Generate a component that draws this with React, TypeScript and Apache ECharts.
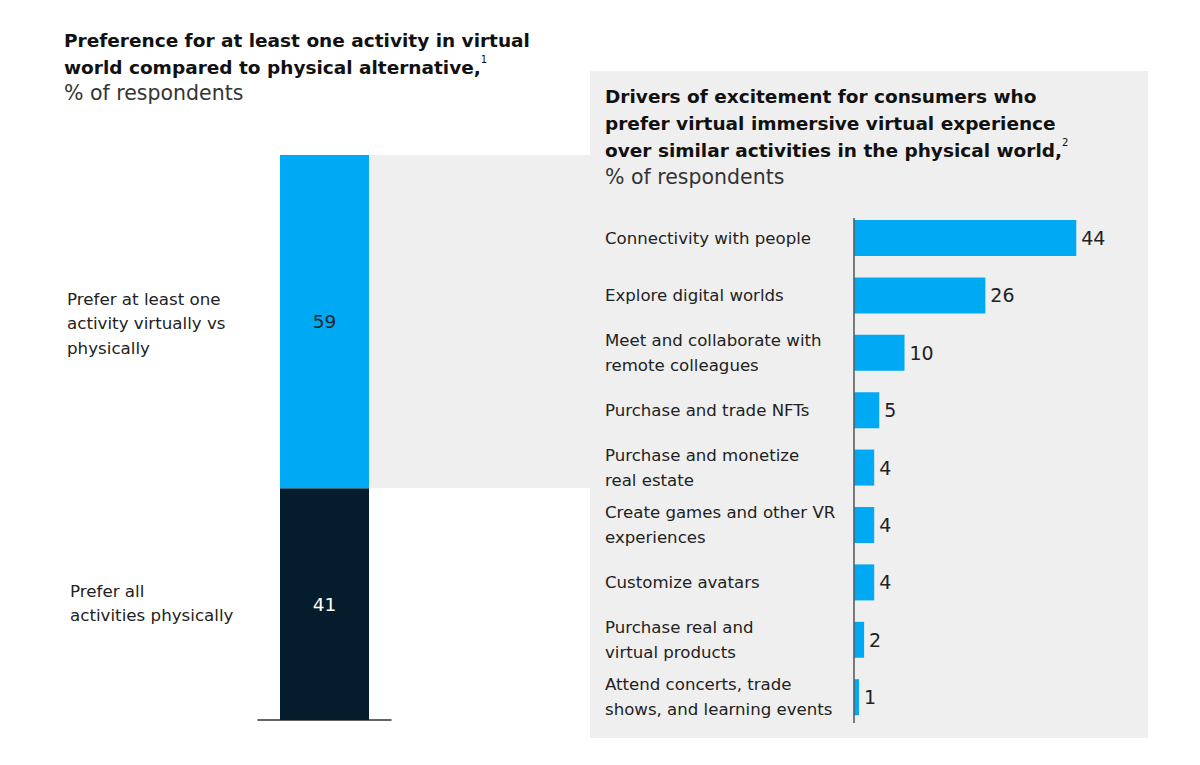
import React, { useEffect, useRef } from "react";
import * as echarts from "echarts";

const leftCategory = ["All respondents"];
const leftSeriesNames = ["Prefer all activities physically", "Prefer at least one activity virtually vs physically"];
const leftValues = [41, 59];
const leftLabelLines = [
  ["Prefer all", "activities physically"],
  ["Prefer at least one", "activity virtually vs", "physically"],
];

const driverCategories = [
  "Connectivity with people",
  "Explore digital worlds",
  "Meet and collaborate with\nremote colleagues",
  "Purchase and trade NFTs",
  "Purchase and monetize\nreal estate",
  "Create games and other VR\nexperiences",
  "Customize avatars",
  "Purchase real and\nvirtual products",
  "Attend concerts, trade\nshows, and learning events",
];
const driverValues = [44, 26, 10, 5, 4, 4, 4, 2, 1];

const BLUE = "#00a9f4";
const DARK = "#051c2c";
const GRAY = "#efefef";
const FONT = "'DejaVu Sans', Verdana, sans-serif";

export default function App() {
  const ref = useRef<HTMLDivElement>(null);
  useEffect(() => {
    if (!ref.current) return;
    const chart = echarts.init(ref.current, undefined, { renderer: "svg" });
    const titleRich = {
      b: { fontSize: 18.5, fontWeight: "bold", fill: "#111", color: "#111", lineHeight: 27, fontFamily: FONT },
      s: { fontSize: 10, fill: "#111", color: "#111", verticalAlign: "top", lineHeight: 27, fontFamily: FONT },
    };
    const option: any = {
      animation: false,
      backgroundColor: "#ffffff",
      textStyle: { fontFamily: FONT },
      graphic: [
        { type: "rect", z: 0, shape: { x: 590, y: 71, width: 558, height: 667 }, style: { fill: GRAY } },
        { type: "rect", z: 0, shape: { x: 369, y: 155, width: 221, height: 333 }, style: { fill: GRAY } },
        { type: "line", z: 3, shape: { x1: 854, y1: 218, x2: 854, y2: 723 }, style: { stroke: "#555", lineWidth: 1.5 } },
        {
          type: "text", z: 5, x: 64, y: 27,
          style: {
            text: "{b|Preference for at least one activity in virtual}\n{b|world compared to physical alternative,}{s|1}",
            fontFamily: FONT,
            rich: titleRich,
          },
        },
        {
          type: "text", z: 5, x: 64, y: 93,
          style: { text: "% of respondents", fontSize: 20.5, fill: "#333", fontFamily: FONT, verticalAlign: "middle" },
        },
        {
          type: "text", z: 5, x: 605, y: 83,
          style: {
            text: "{b|Drivers of excitement for consumers who}\n{b|prefer virtual immersive virtual experience}\n{b|over similar activities in the physical world,}{s|2}",
            fontFamily: FONT,
            rich: titleRich,
          },
        },
        {
          type: "text", z: 5, x: 605, y: 177,
          style: { text: "% of respondents", fontSize: 20.5, fill: "#333", fontFamily: FONT, verticalAlign: "middle" },
        },
        {
          type: "text", z: 5, x: 67, y: 323,
          style: { text: leftLabelLines[1].join("\n"), fontSize: 16.7, lineHeight: 24.5, fill: "#222", fontFamily: FONT, verticalAlign: "middle" },
        },
        {
          type: "text", z: 5, x: 70, y: 603,
          style: { text: leftLabelLines[0].join("\n"), fontSize: 16.7, lineHeight: 24.5, fill: "#222", fontFamily: FONT, verticalAlign: "middle" },
        },
      ],
      grid: [
        { left: 258, top: 155, width: 133, height: 565, containLabel: false },
        { left: 854, top: 209.3, width: 293, height: 516.6, containLabel: false },
      ],
      xAxis: [
        {
          gridIndex: 0, type: "category", data: leftCategory,
          axisLine: { show: true, lineStyle: { color: "#333", width: 1.5 } },
          axisTick: { show: false }, axisLabel: { show: false },
        },
        { gridIndex: 1, type: "value", min: 0, max: 58, show: false },
      ],
      yAxis: [
        { gridIndex: 0, type: "value", min: 0, max: 100, show: false },
        {
          gridIndex: 1, type: "category", data: driverCategories, inverse: true,
          axisLine: { show: false },
          axisTick: { show: false },
          axisLabel: {
            align: "left", margin: 249, fontSize: 16.6, color: "#222", lineHeight: 25, fontFamily: FONT,
          },
          splitLine: { show: false },
        },
      ],
      series: [
        {
          name: leftSeriesNames[0], type: "bar", stack: "total", xAxisIndex: 0, yAxisIndex: 0,
          data: [leftValues[0]], barWidth: 89, itemStyle: { color: DARK },
          label: { show: true, position: "inside", color: "#ffffff", fontSize: 18.5, fontFamily: FONT },
        },
        {
          name: leftSeriesNames[1], type: "bar", stack: "total", xAxisIndex: 0, yAxisIndex: 0,
          data: [leftValues[1]], barWidth: 89, itemStyle: { color: BLUE },
          label: { show: true, position: "inside", color: "#1a2430", fontSize: 18.5, fontFamily: FONT },
        },
        {
          name: "Drivers", type: "bar", xAxisIndex: 1, yAxisIndex: 1,
          data: driverValues, barWidth: 36, itemStyle: { color: BLUE },
          label: { show: true, position: "right", distance: 5, color: "#222", fontSize: 19, fontFamily: FONT },
        },
      ],
    };
    chart.setOption(option);
    return () => chart.dispose();
  }, []);
  return (
    <div
      ref={ref}
      style={{ position: "absolute", left: 0, top: 0, width: 1200, height: 765 }}
    />
  );
}
